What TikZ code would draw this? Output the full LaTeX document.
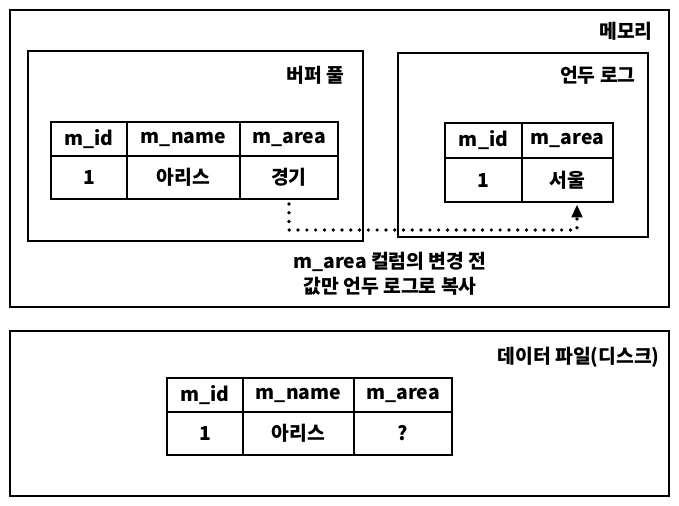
\documentclass[tikz,border=0pt]{standalone}
\usepackage{fontspec}
\setmainfont{Noto Sans CJK KR}
\usetikzlibrary{arrows.meta,positioning}
\begin{document}
\begin{tikzpicture}[x=0.02cm,y=-0.02cm,node distance=0pt,every node/.style={font=\fontsize{11}{14.5}\selectfont\bfseries},panel/.style={draw=black,line width=1.1pt},title/.style={anchor=east,inner sep=0pt},cell/.style={rectangle,draw=black,line width=0.9pt,inner sep=0pt,outer sep=0pt,align=center},head/.style={cell,minimum height=0.68cm},body/.style={cell,minimum height=0.88cm},copyline/.style={line width=2.1pt,line cap=round,dash pattern=on 0pt off 5pt,-{Triangle[length=2.6mm,width=2.1mm]}}]
\useasboundingbox (0,0) rectangle (679,506);
% memory
\draw[panel](10,10) rectangle (669,307);
\node[title](memory) at (653,31){메모리};
\draw[panel](28,51) rectangle (363,241);
\node[title](bufferpool) at (345,75){버퍼 풀};
\draw[panel](398,53) rectangle (648,237);
\node[title](undolog) at (636,75){언두 로그};
% buffer pool table
\node[head,minimum width=1.52cm,anchor=north west](bufidh) at (51,122){m\_id};
\node[head,minimum width=2.26cm,right=of bufidh](bufnameh){m\_name};
\node[head,minimum width=1.96cm,right=of bufnameh](bufareah){m\_area};
\node[body,minimum width=1.52cm,minimum height=0.86cm,below=of bufidh](bufid){1};
\node[body,minimum width=2.26cm,minimum height=0.86cm,below=of bufnameh](bufname){아리스};
\node[body,minimum width=1.96cm,minimum height=0.86cm,below=of bufareah](bufarea){경기};
% undo log table
\node[head,minimum width=1.54cm,minimum height=0.70cm,anchor=north west](undoidh) at (445,123){m\_id};
\node[head,minimum width=1.82cm,minimum height=0.70cm,right=of undoidh](undoareah){m\_area};
\node[body,minimum width=1.54cm,minimum height=0.88cm,below=of undoidh](undoid){1};
\node[body,minimum width=1.82cm,minimum height=0.88cm,below=of undoareah](undoarea){서울};
% copy
\coordinate(bend) at (577,230);
\draw[copyline]([yshift=-0.1cm]bufarea.south) |- (bend) -- ([yshift=-0.05cm]bend |- undoarea.south);
\node[align=center](caption) at (390,274){m\_area 컬럼의 변경 전\\값만 언두 로그로 복사};
% disk
\draw[panel](10,331) rectangle (669,496);
\node[title](datafile) at (660,357){데이터 파일(디스크)};
\node[head,minimum width=1.52cm,anchor=north west](diskidh) at (167,378){m\_id};
\node[head,minimum width=2.22cm,right=of diskidh](disknameh){m\_name};
\node[head,minimum width=1.96cm,right=of disknameh](diskareah){m\_area};
\node[body,minimum width=1.52cm,minimum height=0.86cm,below=of diskidh](diskid){1};
\node[body,minimum width=2.22cm,minimum height=0.86cm,below=of disknameh](diskname){아리스};
\node[body,minimum width=1.96cm,minimum height=0.86cm,below=of diskareah](diskarea){?};
\end{tikzpicture}
\end{document}
